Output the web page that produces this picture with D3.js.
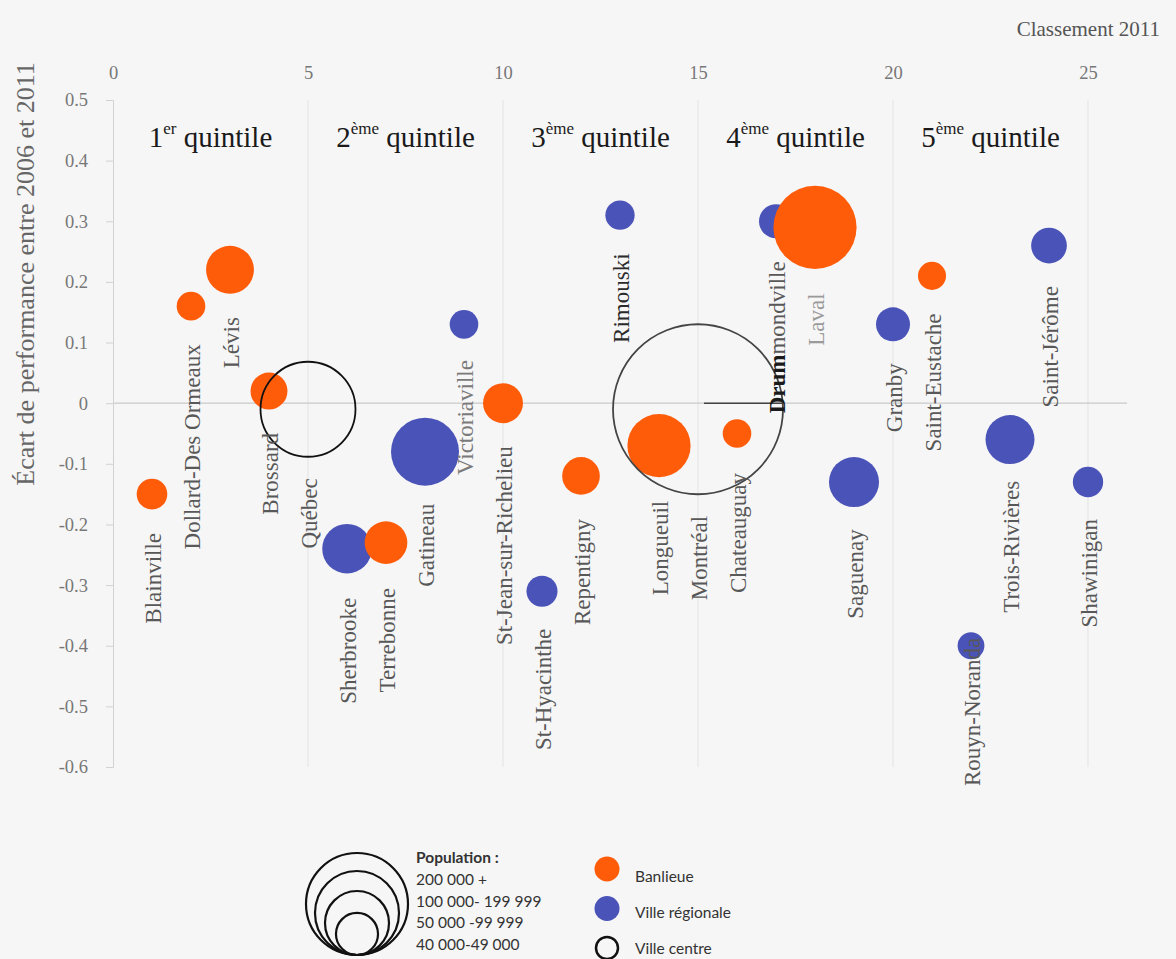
<!DOCTYPE html>
<html>
<head>
<meta charset="utf-8">
<script src="https://cdn.jsdelivr.net/npm/d3@7"></script>
<style>
  body { margin: 0; background: #f6f6f6; }
  text { font-family: "Liberation Serif", "Times New Roman", serif; }
  .leg text { font-family: Lato, "Open Sans", sans-serif; }
</style>
</head>
<body>
<script>
// data
var villes = ["Blainville", "Dollard-Des Ormeaux", "Lévis", "Brossard", "Québec", "Sherbrooke",
  "Terrebonne", "Gatineau", "Victoriaville", "St-Jean-sur-Richelieu", "St-Hyacinthe", "Repentigny",
  "Rimouski", "Longueuil", "Montréal", "Chateauguay", "Drummondville", "Laval", "Saguenay",
  "Granby", "Saint-Eustache", "Rouyn-Noranda", "Trois-Rivières", "Saint-Jérôme", "Shawinigan"];
var classement = [1, 2, 3, 4, 5, 6, 7, 8, 9, 10, 11, 12, 13, 14, 15, 16, 17, 18, 19, 20, 21, 22, 23, 24, 25];
var ecart = [-0.15, 0.16, 0.22, 0.02, -0.01, -0.24, -0.23, -0.08, 0.13, 0.00, -0.31, -0.12,
  0.31, -0.07, -0.01, -0.05, 0.30, 0.29, -0.13, 0.13, 0.21, -0.40, -0.06, 0.26, -0.13];
// population in thousands
var population = [53.5, 46.7, 131, 78, 515, 140, 104, 264, 46.7, 91, 55, 81,
  49, 228, 1650, 46.7, 66, 395, 143, 66, 45, 41, 137, 73, 52.6];
var typeVille = ["B", "B", "B", "B", "C", "R", "B", "R", "R", "B", "R", "B",
  "R", "B", "C", "B", "R", "B", "R", "R", "B", "R", "R", "R", "R"];
// where each name label ends (top), in y units
var etiquetteHaut = [-0.214, 0.097, 0.142, -0.049, -0.124, -0.321, -0.305, -0.166, 0.071, -0.071,
  -0.372, -0.191, 0.247, -0.161, -0.186, -0.115, 0.234, 0.181, -0.208, 0.066, 0.148, -0.387,
  -0.128, 0.193, -0.191];

var xTicks = [0, 5, 10, 15, 20, 25];
var yTicks = [0.5, 0.4, 0.3, 0.2, 0.1, 0, -0.1, -0.2, -0.3, -0.4, -0.5, -0.6];
var quintiles = [["1", "er"], ["2", "ème"], ["3", "ème"], ["4", "ème"], ["5", "ème"]];
var quintileCentre = [2.5, 7.5, 12.5, 17.5, 22.5];
var legendePop = ["200 000 +", "100 000- 199 999", "50 000 -99 999", "40 000-49 000"];
// ring sizes of the legend glyph, same units as population
var legendePopVal = [594, 403, 234, 101];
var legendeType = [["B", "Banlieue"], ["R", "Ville régionale"], ["C", "Ville centre"]];

var couleurs = { B: "#ff5c0a", R: "#4a53b7" };
var serif = "'Liberation Serif', 'Times New Roman', serif";

var svgWidth = 1176, svgHeight = 959;
var svg = d3.select("body").append("svg")
  .attr("width", svgWidth)
  .attr("height", svgHeight);

var x = d3.scaleLinear().domain([0, 26]).range([113, 1127]);
var y = d3.scaleLinear().domain([-0.6, 0.5]).range([767, 100]);
var r = d3.scaleSqrt().domain([0, 1650]).range([0, 85]);

var data = villes.map(function (v, i) {
  return { nom: v, rang: classement[i], ecart: ecart[i], pop: population[i], type: typeVille[i], lab: etiquetteHaut[i] };
});

// vertical gridlines
svg.append("g").selectAll("line")
  .data(xTicks.filter(function (d) { return d > 0; }))
  .enter().append("line")
  .attr("x1", d => x(d)).attr("x2", d => x(d))
  .attr("y1", y(0.5)).attr("y2", y(-0.6))
  .attr("stroke", "#e3e3e3").attr("stroke-width", 1);

// zero line
svg.append("line")
  .attr("x1", x(0)).attr("x2", x(26))
  .attr("y1", y(0)).attr("y2", y(0))
  .attr("stroke", "#c9c9c9").attr("stroke-width", 1.2);

// left axis
var yAxis = svg.append("g")
  .attr("transform", "translate(" + x(0) + ",0)")
  .call(d3.axisLeft(y).tickValues(yTicks).tickSize(7).tickPadding(18)
    .tickFormat(function (d) { return d === 0 ? "0" : d.toFixed(1); }));
yAxis.select(".domain").attr("stroke", "#d2d2d2");
yAxis.selectAll(".tick line").attr("stroke", "#d2d2d2");
yAxis.selectAll("text").attr("fill", "#777")
  .style("font-family", serif).style("font-size", "18.5px");

// top axis (classement)
var xAxis = svg.append("g")
  .attr("transform", "translate(0," + y(0.5) + ")")
  .call(d3.axisTop(x).tickValues(xTicks).tickSize(0).tickPadding(21));
xAxis.select(".domain").remove();
xAxis.selectAll("text").attr("fill", "#777")
  .style("font-family", serif).style("font-size", "18.5px");

svg.append("text")
  .attr("x", 1160).attr("y", 36)
  .attr("text-anchor", "end")
  .attr("font-size", 21).attr("fill", "#555")
  .text("Classement 2011");

svg.append("text")
  .attr("transform", "translate(34, 274) rotate(-90)")
  .attr("text-anchor", "middle")
  .attr("font-size", 26).attr("fill", "#666")
  .text("Écart de performance entre 2006 et 2011");

// quintile titles
var qt = svg.append("g").selectAll("text")
  .data(quintiles)
  .enter().append("text")
  .attr("x", (d, i) => x(quintileCentre[i]))
  .attr("y", 147)
  .attr("text-anchor", "middle")
  .attr("font-size", 29).attr("fill", "#1a1a1a");
qt.append("tspan").text(d => d[0]);
qt.append("tspan").attr("font-size", 17).attr("dy", -13).text(d => d[1]);
qt.append("tspan").attr("dy", 13).text(" quintile");

// bubbles
var remplis = data.filter(d => d.type !== "C");
var centres = data.filter(d => d.type === "C");

svg.append("g").selectAll("circle")
  .data(remplis)
  .enter().append("circle")
  .attr("cx", d => x(d.rang))
  .attr("cy", d => y(d.ecart))
  .attr("r", d => r(d.pop))
  .attr("fill", d => couleurs[d.type]);

svg.append("g").selectAll("circle")
  .data(centres)
  .enter().append("circle")
  .attr("cx", d => x(d.rang))
  .attr("cy", d => y(d.ecart))
  .attr("r", d => r(d.pop))
  .attr("fill", "none")
  .attr("stroke", (d, i) => i === 0 ? "#111" : "#444")
  .attr("stroke-width", 1.8);

// short dark stroke on the big ring (as in the source)
var mtl = data[14];
svg.append("line")
  .attr("x1", x(mtl.rang) + 6).attr("x2", x(mtl.rang) + r(mtl.pop))
  .attr("y1", y(0)).attr("y2", y(0))
  .attr("stroke", "#444").attr("stroke-width", 1.6);

// city labels
var labels = svg.append("g").selectAll("text")
  .data(data)
  .enter().append("text")
  .attr("transform", d => "translate(" + (x(d.rang) + 1) + "," + y(d.lab) + ") rotate(-90)")
  .attr("text-anchor", "end")
  .attr("dy", "0.33em")
  .attr("font-size", 23)
  .attr("fill", function (d) {
    if (d.nom === "Rimouski") return "#2a2a2a";
    if (d.nom === "Laval") return "#9a9a9a";
    if (d.nom === "Victoriaville") return "#7a7a7a";
    return "#585858";
  });
labels.each(function (d) {
  var t = d3.select(this);
  if (d.nom === "Drummondville") {
    // the start of this name is overprinted darker in the source
    t.append("tspan").attr("fill", "#1a1a1a").attr("font-weight", "bold").text("Drum");
    t.append("tspan").text("mondville");
  } else {
    t.text(d.nom);
  }
});

// legend: population rings
var leg = svg.append("g").attr("class", "leg");
leg.selectAll("circle.pop")
  .data(legendePopVal)
  .enter().append("circle")
  .attr("class", "pop")
  .attr("cx", 357)
  .attr("cy", d => 955 - r(d))
  .attr("r", d => r(d))
  .attr("fill", "none")
  .attr("stroke", "#111")
  .attr("stroke-width", 2.2);

leg.append("text")
  .attr("x", 416).attr("y", 863)
  .attr("font-size", 15.5).attr("font-weight", "bold").attr("fill", "#333")
  .text("Population :");
leg.selectAll("text.pl")
  .data(legendePop)
  .enter().append("text")
  .attr("class", "pl")
  .attr("x", 416)
  .attr("y", (d, i) => 885 + i * 21.5)
  .attr("font-size", 15.5).attr("fill", "#333")
  .text(d => d);

// legend: types
leg.selectAll("circle.t")
  .data(legendeType)
  .enter().append("circle")
  .attr("class", "t")
  .attr("cx", 607)
  .attr("cy", (d, i) => 869 + i * 39.5)
  .attr("r", d => d[0] === "C" ? 11 : 12.5)
  .attr("fill", d => d[0] === "C" ? "none" : couleurs[d[0]])
  .attr("stroke", d => d[0] === "C" ? "#111" : "none")
  .attr("stroke-width", 2.5);
leg.selectAll("text.tl")
  .data(legendeType)
  .enter().append("text")
  .attr("class", "tl")
  .attr("x", 635)
  .attr("y", (d, i) => 882 + i * 36)
  .attr("font-size", 15.5).attr("fill", "#333")
  .text(d => d[1]);
</script>
</body>
</html>
